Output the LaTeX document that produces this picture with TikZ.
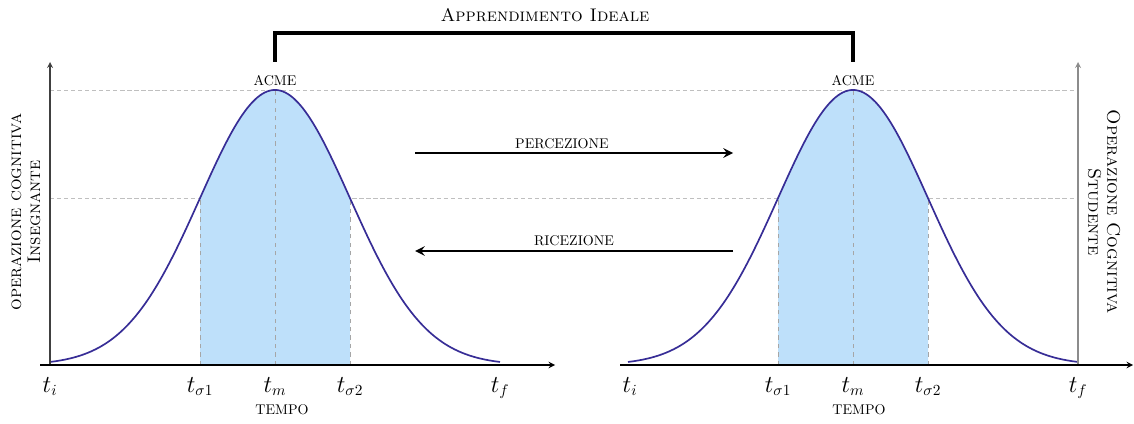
\documentclass[tikz,border=0pt]{standalone}
\usetikzlibrary{positioning}

\definecolor{bandblue}{RGB}{190,224,250}
\definecolor{curveblue}{RGB}{55,45,150}

\newcommand*{\peak}{275}
\newcommand*{\lev}{166.8}

\begin{document}
\begin{tikzpicture}
[
	x=0.025cm,y=0.025cm,
	>=stealth,
	declare function={gauss(\x)=\peak*exp(-0.5*((\x)/75)^2);},
	gausscurve/.style={draw=curveblue,line width=1.2pt,domain=-225:225,samples=90,smooth},
	bellfill/.style={fill=bandblue},
	guideline/.style={gray!50,densely dashed,line width=0.5pt},
	dropline/.style={gray!70,dashed,line width=0.4pt},
	timelbl/.style={anchor=base,font=\fontsize{16}{18}\selectfont,inner sep=0pt},
	smalllbl/.style={anchor=base,font=\normalsize,inner sep=0pt},
	flowarrow/.style={->,line width=2pt},
	axislbl/.style={align=center,font=\fontsize{13}{13.5}\selectfont,inner sep=0pt}
]

	\useasboundingbox (0,0) rectangle (1134,423);

	% guide levels across both plots
	\coordinate (gtopL) at (50,333);
	\coordinate (gtopR) at (1078,333);
	\coordinate (gmidL) at (50,224.8);
	\coordinate (gmidR) at (1078,224.8);
	\draw[guideline] (gtopL) -- (gtopR);
	\draw[guideline] (gmidL) -- (gmidR);

	% left plot (insegnante)
	\begin{scope}[shift={(275,58)}]
		\fill[bellfill] (-75,0) -- plot[domain=-75:75,smooth,samples=40] (\x,{gauss(\x)}) -- (75,0) -- cycle;
		\coordinate (ls1) at (-75,0);
		\coordinate (ls1top) at (-75,\lev);
		\coordinate (lm) at (0,0);
		\coordinate (lmtop) at (0,\peak);
		\coordinate (ls2) at (75,0);
		\coordinate (ls2top) at (75,\lev);
		\draw[dropline] (ls1) -- (ls1top);
		\draw[dropline] (lm) -- (lmtop);
		\draw[dropline] (ls2) -- (ls2top);
		\draw[gausscurve] plot (\x,{gauss(\x)});
	\end{scope}

	% right plot (studente)
	\begin{scope}[shift={(853,58)}]
		\fill[bellfill] (-75,0) -- plot[domain=-75:75,smooth,samples=40] (\x,{gauss(\x)}) -- (75,0) -- cycle;
		\coordinate (rs1) at (-75,0);
		\coordinate (rs1top) at (-75,\lev);
		\coordinate (rm) at (0,0);
		\coordinate (rmtop) at (0,\peak);
		\coordinate (rs2) at (75,0);
		\coordinate (rs2top) at (75,\lev);
		\draw[dropline] (rs1) -- (rs1top);
		\draw[dropline] (rm) -- (rmtop);
		\draw[dropline] (rs2) -- (rs2top);
		\draw[gausscurve] plot (\x,{gauss(\x)});
	\end{scope}

	% axes
	\coordinate (lxa) at (40,58);
	\coordinate (lxb) at (555,58);
	\coordinate (lya) at (50,58);
	\coordinate (lyb) at (50,361);
	\coordinate (rxa) at (620,58);
	\coordinate (rxb) at (1133,58);
	\coordinate (rya) at (1078,58);
	\coordinate (ryb) at (1078,361);
	\draw[black!75,->,line width=0.9pt] (lya) -- (lyb);
	\draw[black!45,->,line width=0.9pt] (rya) -- (ryb);
	\draw[->,line width=1pt] (lxa) -- (lxb);
	\draw[->,line width=1pt] (rxa) -- (rxb);

	% label horiz axes
	\node[timelbl] (lti) at (50,31) {$t_i$};
	\node[timelbl] (lts1) at (200,31) {$t_{\sigma1}$};
	\node[timelbl] (ltm) at (275,31) {$t_m$};
	\node[timelbl] (lts2) at (350,31) {$t_{\sigma2}$};
	\node[timelbl] (ltf) at (500,31) {$t_f$};
	\node[smalllbl] (ltime) at (282,9) {TEMPO};
	%
	\node[timelbl] (rti) at (630,31) {$t_i$};
	\node[timelbl] (rts1) at (778,31) {$t_{\sigma1}$};
	\node[timelbl] (rtm) at (853,31) {$t_m$};
	\node[timelbl] (rts2) at (928,31) {$t_{\sigma2}$};
	\node[timelbl] (rtf) at (1078,31) {$t_f$};
	\node[smalllbl] (rtime) at (859,9) {TEMPO};

	% vertical axis labels
	\node[axislbl,rotate=90] (lylbl) at (26,211) {\textsc{operazione cognitiva}\\\textsc{Insegnante}};
	\node[axislbl,rotate=-90] (rylbl) at (1104,211) {\textsc{Operazione Cognitiva}\\\textsc{Studente}};

	% peaks
	\node[anchor=base,inner sep=0pt] (lacme) at (275,337) {ACME};
	\node[anchor=base,inner sep=0pt] (racme) at (853,337) {ACME};

	% ideal learning bracket
	\coordinate (brL) at (275,361);
	\coordinate (brR) at (853,361);
	\draw[line width=2.2pt] (brL) -- ++(0,29) -| (brR);
	\node[anchor=base,font=\fontsize{13}{15}\selectfont,inner sep=0pt] (ideal) at (545,401) {\textsc{Apprendimento Ideale}};

	% perception and reception
	\coordinate (pcA) at (415,270);
	\coordinate (pcB) at (733,270);
	\draw[flowarrow] (pcA) -- (pcB);
	\node[anchor=base,inner sep=0pt] (perc) at (562,274) {PERCEZIONE};
	%
	\coordinate (rcA) at (733,172);
	\coordinate (rcB) at (415,172);
	\draw[flowarrow] (rcA) -- (rcB);
	\node[anchor=base,inner sep=0pt] (ricez) at (574,178) {RICEZIONE};

\end{tikzpicture}
\end{document}
